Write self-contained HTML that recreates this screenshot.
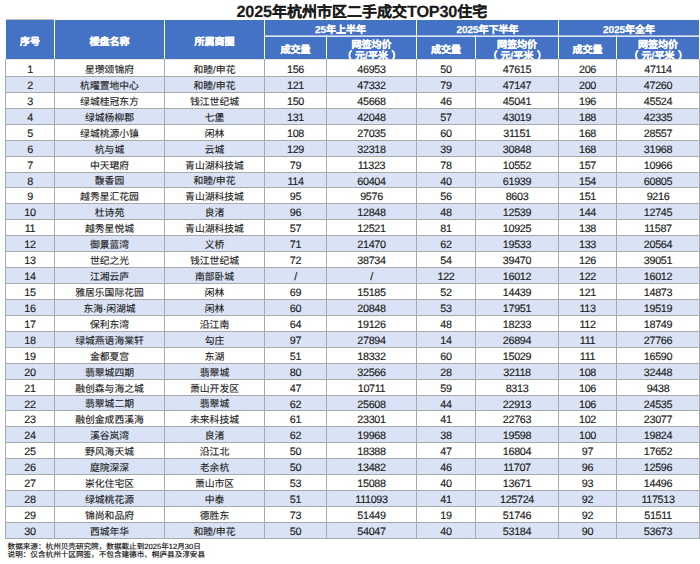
<!DOCTYPE html>
<html lang="zh-CN"><head><meta charset="utf-8"><style>
*{margin:0;padding:0;box-sizing:border-box}
html,body{width:700px;height:564px;overflow:hidden;background:#fff}
body{position:relative;text-spacing-trim:space-all;text-rendering:geometricPrecision;font-family:"Liberation Sans",sans-serif;color:#1c1c1c}
.a{position:absolute}
.c{position:absolute;display:flex;align-items:center;justify-content:center;white-space:nowrap}
.h{color:#fff;font-weight:bold;font-size:10px;line-height:10.8px;text-align:center;text-spacing-trim:space-all;-webkit-text-stroke:0.25px #fff}
.hg{padding-top:7px}
.pl{position:relative;left:-3px}
.pr{position:relative;left:3.5px}
.hs{padding-top:8px}
.hp{padding-top:8px}
.hm{padding-top:8px}
.t{font-size:9.8px;line-height:10px;padding-top:4px;-webkit-text-stroke:0.12px #1c1c1c}
.n{font-size:10.8px;letter-spacing:-0.35px;line-height:11px;padding-top:4px;-webkit-text-stroke:0.15px #1c1c1c}
.title{left:236.5px;top:2px;font-size:15px;font-weight:bold;line-height:20px;color:#1a1a1a;white-space:nowrap;-webkit-text-stroke:0.15px #1a1a1a}
.title span{font-size:16.3px;letter-spacing:-0.2px}
.foot{left:7.6px;font-size:7.6px;line-height:9px;color:#111;white-space:nowrap;-webkit-text-stroke:0.15px #111}
</style></head>
<body>
<div class="a title"><span>2025</span>年杭州市区二手成交<span>TOP30</span>住宅</div>
<div class="a" style="left:6px;top:20px;width:693px;height:39px;background:#4472c4"></div>
<div class="a" style="left:6px;top:19px;width:48px;height:1px;background:#c9bfb3"></div>
<div class="a" style="left:54px;top:20px;width:1px;height:39px;background:#fff"></div>
<div class="a" style="left:164px;top:20px;width:1px;height:39px;background:#fff"></div>
<div class="a" style="left:264px;top:20px;width:1px;height:39px;background:#fff"></div>
<div class="a" style="left:416px;top:20px;width:1px;height:39px;background:#fff"></div>
<div class="a" style="left:558px;top:20px;width:1px;height:39px;background:#fff"></div>
<div class="a" style="left:326px;top:35px;width:1px;height:24px;background:#fff"></div>
<div class="a" style="left:475px;top:35px;width:1px;height:24px;background:#fff"></div>
<div class="a" style="left:616px;top:35px;width:1px;height:24px;background:#fff"></div>
<div class="a" style="left:265px;top:35px;width:434px;height:1px;background:rgba(255,255,255,.55)"></div>
<div class="a" style="left:265px;top:36px;width:434px;height:1px;background:rgba(255,255,255,.8)"></div>
<div class="c h hm" style="left:6px;top:20px;width:48px;height:39px"><div>序号</div></div>
<div class="c h hm" style="left:55px;top:20px;width:109px;height:39px"><div>楼盘名称</div></div>
<div class="c h hm" style="left:165px;top:20px;width:99px;height:39px"><div>所属商圈</div></div>
<div class="c h hg" style="left:265px;top:20px;width:151px;height:15px"><div>25年上半年</div></div>
<div class="c h hg" style="left:417px;top:20px;width:141px;height:15px"><div>2025年下半年</div></div>
<div class="c h hg" style="left:559px;top:20px;width:140px;height:15px"><div>2025年全年</div></div>
<div class="c h hs" style="left:265px;top:36px;width:61px;height:23px"><div>成交量</div></div>
<div class="c h hp" style="left:327px;top:36px;width:89px;height:23px"><div>网签均价<br><span class="pl">（</span>元/平米<span class="pr">）</span></div></div>
<div class="c h hs" style="left:417px;top:36px;width:58px;height:23px"><div>成交量</div></div>
<div class="c h hp" style="left:476px;top:36px;width:82px;height:23px"><div>网签均价<br><span class="pl">（</span>元/平米<span class="pr">）</span></div></div>
<div class="c h hs" style="left:559px;top:36px;width:57px;height:23px"><div>成交量</div></div>
<div class="c h hp" style="left:617px;top:36px;width:82px;height:23px"><div>网签均价<br><span class="pl">（</span>元/平米<span class="pr">）</span></div></div>
<div class="a" style="left:5px;top:60px;width:695px;height:16px;background:#fff"></div>
<div class="a" style="left:5px;top:76px;width:695px;height:16px;background:#dae3f5"></div>
<div class="a" style="left:5px;top:92px;width:695px;height:16px;background:#fff"></div>
<div class="a" style="left:5px;top:108px;width:695px;height:16px;background:#dae3f5"></div>
<div class="a" style="left:5px;top:124px;width:695px;height:16px;background:#fff"></div>
<div class="a" style="left:5px;top:140px;width:695px;height:16px;background:#dae3f5"></div>
<div class="a" style="left:5px;top:156px;width:695px;height:16px;background:#fff"></div>
<div class="a" style="left:5px;top:172px;width:695px;height:15px;background:#dae3f5"></div>
<div class="a" style="left:5px;top:187px;width:695px;height:16px;background:#fff"></div>
<div class="a" style="left:5px;top:203px;width:695px;height:16px;background:#dae3f5"></div>
<div class="a" style="left:5px;top:219px;width:695px;height:16px;background:#fff"></div>
<div class="a" style="left:5px;top:235px;width:695px;height:16px;background:#dae3f5"></div>
<div class="a" style="left:5px;top:251px;width:695px;height:16px;background:#fff"></div>
<div class="a" style="left:5px;top:267px;width:695px;height:16px;background:#dae3f5"></div>
<div class="a" style="left:5px;top:283px;width:695px;height:16px;background:#fff"></div>
<div class="a" style="left:5px;top:299px;width:695px;height:16px;background:#dae3f5"></div>
<div class="a" style="left:5px;top:315px;width:695px;height:16px;background:#fff"></div>
<div class="a" style="left:5px;top:331px;width:695px;height:16px;background:#dae3f5"></div>
<div class="a" style="left:5px;top:347px;width:695px;height:16px;background:#fff"></div>
<div class="a" style="left:5px;top:363px;width:695px;height:16px;background:#dae3f5"></div>
<div class="a" style="left:5px;top:379px;width:695px;height:16px;background:#fff"></div>
<div class="a" style="left:5px;top:395px;width:695px;height:15px;background:#dae3f5"></div>
<div class="a" style="left:5px;top:410px;width:695px;height:16px;background:#fff"></div>
<div class="a" style="left:5px;top:426px;width:695px;height:16px;background:#dae3f5"></div>
<div class="a" style="left:5px;top:442px;width:695px;height:16px;background:#fff"></div>
<div class="a" style="left:5px;top:458px;width:695px;height:16px;background:#dae3f5"></div>
<div class="a" style="left:5px;top:474px;width:695px;height:16px;background:#fff"></div>
<div class="a" style="left:5px;top:490px;width:695px;height:16px;background:#dae3f5"></div>
<div class="a" style="left:5px;top:506px;width:695px;height:16px;background:#fff"></div>
<div class="a" style="left:5px;top:522px;width:695px;height:16px;background:#dae3f5"></div>
<div class="a" style="left:5px;top:59px;width:695px;height:1px;background:#e6e2dc"></div>
<div class="a" style="left:5px;top:76px;width:695px;height:1px;background:#a9a9a9"></div>
<div class="a" style="left:5px;top:92px;width:695px;height:1px;background:#a9a9a9"></div>
<div class="a" style="left:5px;top:108px;width:695px;height:1px;background:#a9a9a9"></div>
<div class="a" style="left:5px;top:124px;width:695px;height:1px;background:#a9a9a9"></div>
<div class="a" style="left:5px;top:140px;width:695px;height:1px;background:#a9a9a9"></div>
<div class="a" style="left:5px;top:156px;width:695px;height:1px;background:#a9a9a9"></div>
<div class="a" style="left:5px;top:172px;width:695px;height:1px;background:#a9a9a9"></div>
<div class="a" style="left:5px;top:187px;width:695px;height:1px;background:#a9a9a9"></div>
<div class="a" style="left:5px;top:203px;width:695px;height:1px;background:#a9a9a9"></div>
<div class="a" style="left:5px;top:219px;width:695px;height:1px;background:#a9a9a9"></div>
<div class="a" style="left:5px;top:235px;width:695px;height:1px;background:#a9a9a9"></div>
<div class="a" style="left:5px;top:251px;width:695px;height:1px;background:#a9a9a9"></div>
<div class="a" style="left:5px;top:267px;width:695px;height:1px;background:#a9a9a9"></div>
<div class="a" style="left:5px;top:283px;width:695px;height:1px;background:#a9a9a9"></div>
<div class="a" style="left:5px;top:299px;width:695px;height:1px;background:#a9a9a9"></div>
<div class="a" style="left:5px;top:315px;width:695px;height:1px;background:#a9a9a9"></div>
<div class="a" style="left:5px;top:331px;width:695px;height:1px;background:#a9a9a9"></div>
<div class="a" style="left:5px;top:347px;width:695px;height:1px;background:#a9a9a9"></div>
<div class="a" style="left:5px;top:363px;width:695px;height:1px;background:#a9a9a9"></div>
<div class="a" style="left:5px;top:379px;width:695px;height:1px;background:#a9a9a9"></div>
<div class="a" style="left:5px;top:395px;width:695px;height:1px;background:#a9a9a9"></div>
<div class="a" style="left:5px;top:410px;width:695px;height:1px;background:#a9a9a9"></div>
<div class="a" style="left:5px;top:426px;width:695px;height:1px;background:#a9a9a9"></div>
<div class="a" style="left:5px;top:442px;width:695px;height:1px;background:#a9a9a9"></div>
<div class="a" style="left:5px;top:458px;width:695px;height:1px;background:#a9a9a9"></div>
<div class="a" style="left:5px;top:474px;width:695px;height:1px;background:#a9a9a9"></div>
<div class="a" style="left:5px;top:490px;width:695px;height:1px;background:#a9a9a9"></div>
<div class="a" style="left:5px;top:506px;width:695px;height:1px;background:#a9a9a9"></div>
<div class="a" style="left:5px;top:522px;width:695px;height:1px;background:#a9a9a9"></div>
<div class="a" style="left:5px;top:538px;width:695px;height:1px;background:#a9a9a9"></div>
<div class="a" style="left:5px;top:59px;width:1px;height:480px;background:#a9a9a9"></div>
<div class="a" style="left:54px;top:59px;width:1px;height:480px;background:#a9a9a9"></div>
<div class="a" style="left:164px;top:59px;width:1px;height:480px;background:#a9a9a9"></div>
<div class="a" style="left:264px;top:59px;width:1px;height:480px;background:#a9a9a9"></div>
<div class="a" style="left:326px;top:59px;width:1px;height:480px;background:#a9a9a9"></div>
<div class="a" style="left:416px;top:59px;width:1px;height:480px;background:#a9a9a9"></div>
<div class="a" style="left:475px;top:59px;width:1px;height:480px;background:#a9a9a9"></div>
<div class="a" style="left:558px;top:59px;width:1px;height:480px;background:#a9a9a9"></div>
<div class="a" style="left:616px;top:59px;width:1px;height:480px;background:#a9a9a9"></div>
<div class="a" style="left:699px;top:59px;width:1px;height:480px;background:#a9a9a9"></div>
<div class="c n" style="left:6px;top:61px;width:48px;height:15px"><div>1</div></div>
<div class="c t" style="left:55px;top:61px;width:109px;height:15px"><div>星瓒颂锦府</div></div>
<div class="c t" style="left:165px;top:61px;width:99px;height:15px"><div>和睦/申花</div></div>
<div class="c n" style="left:265px;top:61px;width:61px;height:15px"><div>156</div></div>
<div class="c n" style="left:327px;top:61px;width:89px;height:15px"><div>46953</div></div>
<div class="c n" style="left:417px;top:61px;width:58px;height:15px"><div>50</div></div>
<div class="c n" style="left:476px;top:61px;width:82px;height:15px"><div>47615</div></div>
<div class="c n" style="left:559px;top:61px;width:57px;height:15px"><div>206</div></div>
<div class="c n" style="left:617px;top:61px;width:82px;height:15px"><div>47114</div></div>
<div class="c n" style="left:6px;top:77px;width:48px;height:15px"><div>2</div></div>
<div class="c t" style="left:55px;top:77px;width:109px;height:15px"><div>杭曜置地中心</div></div>
<div class="c t" style="left:165px;top:77px;width:99px;height:15px"><div>和睦/申花</div></div>
<div class="c n" style="left:265px;top:77px;width:61px;height:15px"><div>121</div></div>
<div class="c n" style="left:327px;top:77px;width:89px;height:15px"><div>47332</div></div>
<div class="c n" style="left:417px;top:77px;width:58px;height:15px"><div>79</div></div>
<div class="c n" style="left:476px;top:77px;width:82px;height:15px"><div>47147</div></div>
<div class="c n" style="left:559px;top:77px;width:57px;height:15px"><div>200</div></div>
<div class="c n" style="left:617px;top:77px;width:82px;height:15px"><div>47260</div></div>
<div class="c n" style="left:6px;top:93px;width:48px;height:15px"><div>3</div></div>
<div class="c t" style="left:55px;top:93px;width:109px;height:15px"><div>绿城桂冠东方</div></div>
<div class="c t" style="left:165px;top:93px;width:99px;height:15px"><div>钱江世纪城</div></div>
<div class="c n" style="left:265px;top:93px;width:61px;height:15px"><div>150</div></div>
<div class="c n" style="left:327px;top:93px;width:89px;height:15px"><div>45668</div></div>
<div class="c n" style="left:417px;top:93px;width:58px;height:15px"><div>46</div></div>
<div class="c n" style="left:476px;top:93px;width:82px;height:15px"><div>45041</div></div>
<div class="c n" style="left:559px;top:93px;width:57px;height:15px"><div>196</div></div>
<div class="c n" style="left:617px;top:93px;width:82px;height:15px"><div>45524</div></div>
<div class="c n" style="left:6px;top:109px;width:48px;height:15px"><div>4</div></div>
<div class="c t" style="left:55px;top:109px;width:109px;height:15px"><div>绿城杨柳郡</div></div>
<div class="c t" style="left:165px;top:109px;width:99px;height:15px"><div>七堡</div></div>
<div class="c n" style="left:265px;top:109px;width:61px;height:15px"><div>131</div></div>
<div class="c n" style="left:327px;top:109px;width:89px;height:15px"><div>42048</div></div>
<div class="c n" style="left:417px;top:109px;width:58px;height:15px"><div>57</div></div>
<div class="c n" style="left:476px;top:109px;width:82px;height:15px"><div>43019</div></div>
<div class="c n" style="left:559px;top:109px;width:57px;height:15px"><div>188</div></div>
<div class="c n" style="left:617px;top:109px;width:82px;height:15px"><div>42335</div></div>
<div class="c n" style="left:6px;top:125px;width:48px;height:15px"><div>5</div></div>
<div class="c t" style="left:55px;top:125px;width:109px;height:15px"><div>绿城桃源小镇</div></div>
<div class="c t" style="left:165px;top:125px;width:99px;height:15px"><div>闲林</div></div>
<div class="c n" style="left:265px;top:125px;width:61px;height:15px"><div>108</div></div>
<div class="c n" style="left:327px;top:125px;width:89px;height:15px"><div>27035</div></div>
<div class="c n" style="left:417px;top:125px;width:58px;height:15px"><div>60</div></div>
<div class="c n" style="left:476px;top:125px;width:82px;height:15px"><div>31151</div></div>
<div class="c n" style="left:559px;top:125px;width:57px;height:15px"><div>168</div></div>
<div class="c n" style="left:617px;top:125px;width:82px;height:15px"><div>28557</div></div>
<div class="c n" style="left:6px;top:141px;width:48px;height:15px"><div>6</div></div>
<div class="c t" style="left:55px;top:141px;width:109px;height:15px"><div>杭与城</div></div>
<div class="c t" style="left:165px;top:141px;width:99px;height:15px"><div>云城</div></div>
<div class="c n" style="left:265px;top:141px;width:61px;height:15px"><div>129</div></div>
<div class="c n" style="left:327px;top:141px;width:89px;height:15px"><div>32318</div></div>
<div class="c n" style="left:417px;top:141px;width:58px;height:15px"><div>39</div></div>
<div class="c n" style="left:476px;top:141px;width:82px;height:15px"><div>30848</div></div>
<div class="c n" style="left:559px;top:141px;width:57px;height:15px"><div>168</div></div>
<div class="c n" style="left:617px;top:141px;width:82px;height:15px"><div>31968</div></div>
<div class="c n" style="left:6px;top:157px;width:48px;height:15px"><div>7</div></div>
<div class="c t" style="left:55px;top:157px;width:109px;height:15px"><div>中天珺府</div></div>
<div class="c t" style="left:165px;top:157px;width:99px;height:15px"><div>青山湖科技城</div></div>
<div class="c n" style="left:265px;top:157px;width:61px;height:15px"><div>79</div></div>
<div class="c n" style="left:327px;top:157px;width:89px;height:15px"><div>11323</div></div>
<div class="c n" style="left:417px;top:157px;width:58px;height:15px"><div>78</div></div>
<div class="c n" style="left:476px;top:157px;width:82px;height:15px"><div>10552</div></div>
<div class="c n" style="left:559px;top:157px;width:57px;height:15px"><div>157</div></div>
<div class="c n" style="left:617px;top:157px;width:82px;height:15px"><div>10966</div></div>
<div class="c n" style="left:6px;top:173px;width:48px;height:14px"><div>8</div></div>
<div class="c t" style="left:55px;top:173px;width:109px;height:14px"><div>馥香园</div></div>
<div class="c t" style="left:165px;top:173px;width:99px;height:14px"><div>和睦/申花</div></div>
<div class="c n" style="left:265px;top:173px;width:61px;height:14px"><div>114</div></div>
<div class="c n" style="left:327px;top:173px;width:89px;height:14px"><div>60404</div></div>
<div class="c n" style="left:417px;top:173px;width:58px;height:14px"><div>40</div></div>
<div class="c n" style="left:476px;top:173px;width:82px;height:14px"><div>61939</div></div>
<div class="c n" style="left:559px;top:173px;width:57px;height:14px"><div>154</div></div>
<div class="c n" style="left:617px;top:173px;width:82px;height:14px"><div>60805</div></div>
<div class="c n" style="left:6px;top:188px;width:48px;height:15px"><div>9</div></div>
<div class="c t" style="left:55px;top:188px;width:109px;height:15px"><div>越秀星汇花园</div></div>
<div class="c t" style="left:165px;top:188px;width:99px;height:15px"><div>青山湖科技城</div></div>
<div class="c n" style="left:265px;top:188px;width:61px;height:15px"><div>95</div></div>
<div class="c n" style="left:327px;top:188px;width:89px;height:15px"><div>9576</div></div>
<div class="c n" style="left:417px;top:188px;width:58px;height:15px"><div>56</div></div>
<div class="c n" style="left:476px;top:188px;width:82px;height:15px"><div>8603</div></div>
<div class="c n" style="left:559px;top:188px;width:57px;height:15px"><div>151</div></div>
<div class="c n" style="left:617px;top:188px;width:82px;height:15px"><div>9216</div></div>
<div class="c n" style="left:6px;top:204px;width:48px;height:15px"><div>10</div></div>
<div class="c t" style="left:55px;top:204px;width:109px;height:15px"><div>杜诗苑</div></div>
<div class="c t" style="left:165px;top:204px;width:99px;height:15px"><div>良渚</div></div>
<div class="c n" style="left:265px;top:204px;width:61px;height:15px"><div>96</div></div>
<div class="c n" style="left:327px;top:204px;width:89px;height:15px"><div>12848</div></div>
<div class="c n" style="left:417px;top:204px;width:58px;height:15px"><div>48</div></div>
<div class="c n" style="left:476px;top:204px;width:82px;height:15px"><div>12539</div></div>
<div class="c n" style="left:559px;top:204px;width:57px;height:15px"><div>144</div></div>
<div class="c n" style="left:617px;top:204px;width:82px;height:15px"><div>12745</div></div>
<div class="c n" style="left:6px;top:220px;width:48px;height:15px"><div>11</div></div>
<div class="c t" style="left:55px;top:220px;width:109px;height:15px"><div>越秀星悦城</div></div>
<div class="c t" style="left:165px;top:220px;width:99px;height:15px"><div>青山湖科技城</div></div>
<div class="c n" style="left:265px;top:220px;width:61px;height:15px"><div>57</div></div>
<div class="c n" style="left:327px;top:220px;width:89px;height:15px"><div>12521</div></div>
<div class="c n" style="left:417px;top:220px;width:58px;height:15px"><div>81</div></div>
<div class="c n" style="left:476px;top:220px;width:82px;height:15px"><div>10925</div></div>
<div class="c n" style="left:559px;top:220px;width:57px;height:15px"><div>138</div></div>
<div class="c n" style="left:617px;top:220px;width:82px;height:15px"><div>11587</div></div>
<div class="c n" style="left:6px;top:236px;width:48px;height:15px"><div>12</div></div>
<div class="c t" style="left:55px;top:236px;width:109px;height:15px"><div>御景蓝湾</div></div>
<div class="c t" style="left:165px;top:236px;width:99px;height:15px"><div>义桥</div></div>
<div class="c n" style="left:265px;top:236px;width:61px;height:15px"><div>71</div></div>
<div class="c n" style="left:327px;top:236px;width:89px;height:15px"><div>21470</div></div>
<div class="c n" style="left:417px;top:236px;width:58px;height:15px"><div>62</div></div>
<div class="c n" style="left:476px;top:236px;width:82px;height:15px"><div>19533</div></div>
<div class="c n" style="left:559px;top:236px;width:57px;height:15px"><div>133</div></div>
<div class="c n" style="left:617px;top:236px;width:82px;height:15px"><div>20564</div></div>
<div class="c n" style="left:6px;top:252px;width:48px;height:15px"><div>13</div></div>
<div class="c t" style="left:55px;top:252px;width:109px;height:15px"><div>世纪之光</div></div>
<div class="c t" style="left:165px;top:252px;width:99px;height:15px"><div>钱江世纪城</div></div>
<div class="c n" style="left:265px;top:252px;width:61px;height:15px"><div>72</div></div>
<div class="c n" style="left:327px;top:252px;width:89px;height:15px"><div>38734</div></div>
<div class="c n" style="left:417px;top:252px;width:58px;height:15px"><div>54</div></div>
<div class="c n" style="left:476px;top:252px;width:82px;height:15px"><div>39470</div></div>
<div class="c n" style="left:559px;top:252px;width:57px;height:15px"><div>126</div></div>
<div class="c n" style="left:617px;top:252px;width:82px;height:15px"><div>39051</div></div>
<div class="c n" style="left:6px;top:268px;width:48px;height:15px"><div>14</div></div>
<div class="c t" style="left:55px;top:268px;width:109px;height:15px"><div>江湘云庐</div></div>
<div class="c t" style="left:165px;top:268px;width:99px;height:15px"><div>南部卧城</div></div>
<div class="c n" style="left:265px;top:268px;width:61px;height:15px"><div>/</div></div>
<div class="c n" style="left:327px;top:268px;width:89px;height:15px"><div>/</div></div>
<div class="c n" style="left:417px;top:268px;width:58px;height:15px"><div>122</div></div>
<div class="c n" style="left:476px;top:268px;width:82px;height:15px"><div>16012</div></div>
<div class="c n" style="left:559px;top:268px;width:57px;height:15px"><div>122</div></div>
<div class="c n" style="left:617px;top:268px;width:82px;height:15px"><div>16012</div></div>
<div class="c n" style="left:6px;top:284px;width:48px;height:15px"><div>15</div></div>
<div class="c t" style="left:55px;top:284px;width:109px;height:15px"><div>雅居乐国际花园</div></div>
<div class="c t" style="left:165px;top:284px;width:99px;height:15px"><div>闲林</div></div>
<div class="c n" style="left:265px;top:284px;width:61px;height:15px"><div>69</div></div>
<div class="c n" style="left:327px;top:284px;width:89px;height:15px"><div>15185</div></div>
<div class="c n" style="left:417px;top:284px;width:58px;height:15px"><div>52</div></div>
<div class="c n" style="left:476px;top:284px;width:82px;height:15px"><div>14439</div></div>
<div class="c n" style="left:559px;top:284px;width:57px;height:15px"><div>121</div></div>
<div class="c n" style="left:617px;top:284px;width:82px;height:15px"><div>14873</div></div>
<div class="c n" style="left:6px;top:300px;width:48px;height:15px"><div>16</div></div>
<div class="c t" style="left:55px;top:300px;width:109px;height:15px"><div>东海·闲湖城</div></div>
<div class="c t" style="left:165px;top:300px;width:99px;height:15px"><div>闲林</div></div>
<div class="c n" style="left:265px;top:300px;width:61px;height:15px"><div>60</div></div>
<div class="c n" style="left:327px;top:300px;width:89px;height:15px"><div>20848</div></div>
<div class="c n" style="left:417px;top:300px;width:58px;height:15px"><div>53</div></div>
<div class="c n" style="left:476px;top:300px;width:82px;height:15px"><div>17951</div></div>
<div class="c n" style="left:559px;top:300px;width:57px;height:15px"><div>113</div></div>
<div class="c n" style="left:617px;top:300px;width:82px;height:15px"><div>19519</div></div>
<div class="c n" style="left:6px;top:316px;width:48px;height:15px"><div>17</div></div>
<div class="c t" style="left:55px;top:316px;width:109px;height:15px"><div>保利东湾</div></div>
<div class="c t" style="left:165px;top:316px;width:99px;height:15px"><div>沿江南</div></div>
<div class="c n" style="left:265px;top:316px;width:61px;height:15px"><div>64</div></div>
<div class="c n" style="left:327px;top:316px;width:89px;height:15px"><div>19126</div></div>
<div class="c n" style="left:417px;top:316px;width:58px;height:15px"><div>48</div></div>
<div class="c n" style="left:476px;top:316px;width:82px;height:15px"><div>18233</div></div>
<div class="c n" style="left:559px;top:316px;width:57px;height:15px"><div>112</div></div>
<div class="c n" style="left:617px;top:316px;width:82px;height:15px"><div>18749</div></div>
<div class="c n" style="left:6px;top:332px;width:48px;height:15px"><div>18</div></div>
<div class="c t" style="left:55px;top:332px;width:109px;height:15px"><div>绿城燕语海棠轩</div></div>
<div class="c t" style="left:165px;top:332px;width:99px;height:15px"><div>勾庄</div></div>
<div class="c n" style="left:265px;top:332px;width:61px;height:15px"><div>97</div></div>
<div class="c n" style="left:327px;top:332px;width:89px;height:15px"><div>27894</div></div>
<div class="c n" style="left:417px;top:332px;width:58px;height:15px"><div>14</div></div>
<div class="c n" style="left:476px;top:332px;width:82px;height:15px"><div>26894</div></div>
<div class="c n" style="left:559px;top:332px;width:57px;height:15px"><div>111</div></div>
<div class="c n" style="left:617px;top:332px;width:82px;height:15px"><div>27766</div></div>
<div class="c n" style="left:6px;top:348px;width:48px;height:15px"><div>19</div></div>
<div class="c t" style="left:55px;top:348px;width:109px;height:15px"><div>金都夏宫</div></div>
<div class="c t" style="left:165px;top:348px;width:99px;height:15px"><div>东湖</div></div>
<div class="c n" style="left:265px;top:348px;width:61px;height:15px"><div>51</div></div>
<div class="c n" style="left:327px;top:348px;width:89px;height:15px"><div>18332</div></div>
<div class="c n" style="left:417px;top:348px;width:58px;height:15px"><div>60</div></div>
<div class="c n" style="left:476px;top:348px;width:82px;height:15px"><div>15029</div></div>
<div class="c n" style="left:559px;top:348px;width:57px;height:15px"><div>111</div></div>
<div class="c n" style="left:617px;top:348px;width:82px;height:15px"><div>16590</div></div>
<div class="c n" style="left:6px;top:364px;width:48px;height:15px"><div>20</div></div>
<div class="c t" style="left:55px;top:364px;width:109px;height:15px"><div>翡翠城四期</div></div>
<div class="c t" style="left:165px;top:364px;width:99px;height:15px"><div>翡翠城</div></div>
<div class="c n" style="left:265px;top:364px;width:61px;height:15px"><div>80</div></div>
<div class="c n" style="left:327px;top:364px;width:89px;height:15px"><div>32566</div></div>
<div class="c n" style="left:417px;top:364px;width:58px;height:15px"><div>28</div></div>
<div class="c n" style="left:476px;top:364px;width:82px;height:15px"><div>32118</div></div>
<div class="c n" style="left:559px;top:364px;width:57px;height:15px"><div>108</div></div>
<div class="c n" style="left:617px;top:364px;width:82px;height:15px"><div>32448</div></div>
<div class="c n" style="left:6px;top:380px;width:48px;height:15px"><div>21</div></div>
<div class="c t" style="left:55px;top:380px;width:109px;height:15px"><div>融创森与海之城</div></div>
<div class="c t" style="left:165px;top:380px;width:99px;height:15px"><div>萧山开发区</div></div>
<div class="c n" style="left:265px;top:380px;width:61px;height:15px"><div>47</div></div>
<div class="c n" style="left:327px;top:380px;width:89px;height:15px"><div>10711</div></div>
<div class="c n" style="left:417px;top:380px;width:58px;height:15px"><div>59</div></div>
<div class="c n" style="left:476px;top:380px;width:82px;height:15px"><div>8313</div></div>
<div class="c n" style="left:559px;top:380px;width:57px;height:15px"><div>106</div></div>
<div class="c n" style="left:617px;top:380px;width:82px;height:15px"><div>9438</div></div>
<div class="c n" style="left:6px;top:396px;width:48px;height:14px"><div>22</div></div>
<div class="c t" style="left:55px;top:396px;width:109px;height:14px"><div>翡翠城二期</div></div>
<div class="c t" style="left:165px;top:396px;width:99px;height:14px"><div>翡翠城</div></div>
<div class="c n" style="left:265px;top:396px;width:61px;height:14px"><div>62</div></div>
<div class="c n" style="left:327px;top:396px;width:89px;height:14px"><div>25608</div></div>
<div class="c n" style="left:417px;top:396px;width:58px;height:14px"><div>44</div></div>
<div class="c n" style="left:476px;top:396px;width:82px;height:14px"><div>22913</div></div>
<div class="c n" style="left:559px;top:396px;width:57px;height:14px"><div>106</div></div>
<div class="c n" style="left:617px;top:396px;width:82px;height:14px"><div>24535</div></div>
<div class="c n" style="left:6px;top:411px;width:48px;height:15px"><div>23</div></div>
<div class="c t" style="left:55px;top:411px;width:109px;height:15px"><div>融创金成西溪海</div></div>
<div class="c t" style="left:165px;top:411px;width:99px;height:15px"><div>未来科技城</div></div>
<div class="c n" style="left:265px;top:411px;width:61px;height:15px"><div>61</div></div>
<div class="c n" style="left:327px;top:411px;width:89px;height:15px"><div>23301</div></div>
<div class="c n" style="left:417px;top:411px;width:58px;height:15px"><div>41</div></div>
<div class="c n" style="left:476px;top:411px;width:82px;height:15px"><div>22763</div></div>
<div class="c n" style="left:559px;top:411px;width:57px;height:15px"><div>102</div></div>
<div class="c n" style="left:617px;top:411px;width:82px;height:15px"><div>23077</div></div>
<div class="c n" style="left:6px;top:427px;width:48px;height:15px"><div>24</div></div>
<div class="c t" style="left:55px;top:427px;width:109px;height:15px"><div>溪谷岚湾</div></div>
<div class="c t" style="left:165px;top:427px;width:99px;height:15px"><div>良渚</div></div>
<div class="c n" style="left:265px;top:427px;width:61px;height:15px"><div>62</div></div>
<div class="c n" style="left:327px;top:427px;width:89px;height:15px"><div>19968</div></div>
<div class="c n" style="left:417px;top:427px;width:58px;height:15px"><div>38</div></div>
<div class="c n" style="left:476px;top:427px;width:82px;height:15px"><div>19598</div></div>
<div class="c n" style="left:559px;top:427px;width:57px;height:15px"><div>100</div></div>
<div class="c n" style="left:617px;top:427px;width:82px;height:15px"><div>19824</div></div>
<div class="c n" style="left:6px;top:443px;width:48px;height:15px"><div>25</div></div>
<div class="c t" style="left:55px;top:443px;width:109px;height:15px"><div>野风海天城</div></div>
<div class="c t" style="left:165px;top:443px;width:99px;height:15px"><div>沿江北</div></div>
<div class="c n" style="left:265px;top:443px;width:61px;height:15px"><div>50</div></div>
<div class="c n" style="left:327px;top:443px;width:89px;height:15px"><div>18388</div></div>
<div class="c n" style="left:417px;top:443px;width:58px;height:15px"><div>47</div></div>
<div class="c n" style="left:476px;top:443px;width:82px;height:15px"><div>16804</div></div>
<div class="c n" style="left:559px;top:443px;width:57px;height:15px"><div>97</div></div>
<div class="c n" style="left:617px;top:443px;width:82px;height:15px"><div>17652</div></div>
<div class="c n" style="left:6px;top:459px;width:48px;height:15px"><div>26</div></div>
<div class="c t" style="left:55px;top:459px;width:109px;height:15px"><div>庭院深深</div></div>
<div class="c t" style="left:165px;top:459px;width:99px;height:15px"><div>老余杭</div></div>
<div class="c n" style="left:265px;top:459px;width:61px;height:15px"><div>50</div></div>
<div class="c n" style="left:327px;top:459px;width:89px;height:15px"><div>13482</div></div>
<div class="c n" style="left:417px;top:459px;width:58px;height:15px"><div>46</div></div>
<div class="c n" style="left:476px;top:459px;width:82px;height:15px"><div>11707</div></div>
<div class="c n" style="left:559px;top:459px;width:57px;height:15px"><div>96</div></div>
<div class="c n" style="left:617px;top:459px;width:82px;height:15px"><div>12596</div></div>
<div class="c n" style="left:6px;top:475px;width:48px;height:15px"><div>27</div></div>
<div class="c t" style="left:55px;top:475px;width:109px;height:15px"><div>崇化住宅区</div></div>
<div class="c t" style="left:165px;top:475px;width:99px;height:15px"><div>萧山市区</div></div>
<div class="c n" style="left:265px;top:475px;width:61px;height:15px"><div>53</div></div>
<div class="c n" style="left:327px;top:475px;width:89px;height:15px"><div>15088</div></div>
<div class="c n" style="left:417px;top:475px;width:58px;height:15px"><div>40</div></div>
<div class="c n" style="left:476px;top:475px;width:82px;height:15px"><div>13671</div></div>
<div class="c n" style="left:559px;top:475px;width:57px;height:15px"><div>93</div></div>
<div class="c n" style="left:617px;top:475px;width:82px;height:15px"><div>14496</div></div>
<div class="c n" style="left:6px;top:491px;width:48px;height:15px"><div>28</div></div>
<div class="c t" style="left:55px;top:491px;width:109px;height:15px"><div>绿城桃花源</div></div>
<div class="c t" style="left:165px;top:491px;width:99px;height:15px"><div>中泰</div></div>
<div class="c n" style="left:265px;top:491px;width:61px;height:15px"><div>51</div></div>
<div class="c n" style="left:327px;top:491px;width:89px;height:15px"><div>111093</div></div>
<div class="c n" style="left:417px;top:491px;width:58px;height:15px"><div>41</div></div>
<div class="c n" style="left:476px;top:491px;width:82px;height:15px"><div>125724</div></div>
<div class="c n" style="left:559px;top:491px;width:57px;height:15px"><div>92</div></div>
<div class="c n" style="left:617px;top:491px;width:82px;height:15px"><div>117513</div></div>
<div class="c n" style="left:6px;top:507px;width:48px;height:15px"><div>29</div></div>
<div class="c t" style="left:55px;top:507px;width:109px;height:15px"><div>锦尚和品府</div></div>
<div class="c t" style="left:165px;top:507px;width:99px;height:15px"><div>德胜东</div></div>
<div class="c n" style="left:265px;top:507px;width:61px;height:15px"><div>73</div></div>
<div class="c n" style="left:327px;top:507px;width:89px;height:15px"><div>51449</div></div>
<div class="c n" style="left:417px;top:507px;width:58px;height:15px"><div>19</div></div>
<div class="c n" style="left:476px;top:507px;width:82px;height:15px"><div>51746</div></div>
<div class="c n" style="left:559px;top:507px;width:57px;height:15px"><div>92</div></div>
<div class="c n" style="left:617px;top:507px;width:82px;height:15px"><div>51511</div></div>
<div class="c n" style="left:6px;top:523px;width:48px;height:15px"><div>30</div></div>
<div class="c t" style="left:55px;top:523px;width:109px;height:15px"><div>西城年华</div></div>
<div class="c t" style="left:165px;top:523px;width:99px;height:15px"><div>和睦/申花</div></div>
<div class="c n" style="left:265px;top:523px;width:61px;height:15px"><div>50</div></div>
<div class="c n" style="left:327px;top:523px;width:89px;height:15px"><div>54047</div></div>
<div class="c n" style="left:417px;top:523px;width:58px;height:15px"><div>40</div></div>
<div class="c n" style="left:476px;top:523px;width:82px;height:15px"><div>53184</div></div>
<div class="c n" style="left:559px;top:523px;width:57px;height:15px"><div>90</div></div>
<div class="c n" style="left:617px;top:523px;width:82px;height:15px"><div>53673</div></div>
<div class="a foot" style="top:541.7px">数据来源：杭州贝壳研究院，数据截止到2025年12月30日</div>
<div class="a foot" style="top:550.3px">说明：仅含杭州十区网签，不包含建德市、桐庐县及淳安县</div>
</body></html>
